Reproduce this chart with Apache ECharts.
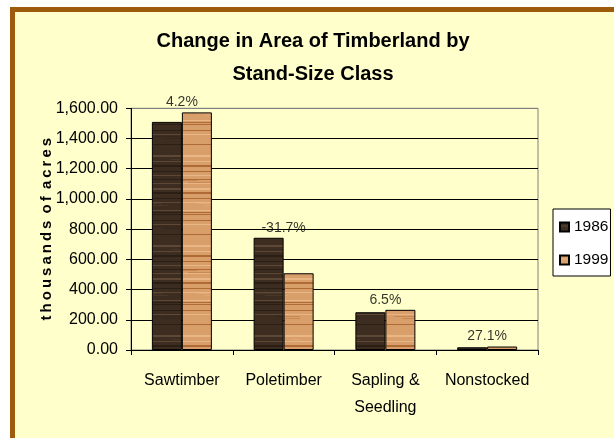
<!DOCTYPE html>
<html>
<head>
<meta charset="utf-8">
<script src="https://cdn.jsdelivr.net/npm/echarts@6/dist/echarts.min.js"></script>
<style>
  html, body { margin: 0; padding: 0; background: #fff; }
  #chart { width: 614px; height: 438px; }
</style>
</head>
<body>
<div id="chart"></div>
<script>
// categories and values (thousands of acres)
var categories = ['Sawtimber', 'Poletimber', 'Sapling &\nSeedling', 'Nonstocked'];
var area1986 = [1510, 743, 250, 18];
var area1999 = [1573, 508, 266, 23];
var changeLabels = ['4.2%', '-31.7%', '6.5%', '27.1%'];
var seriesNames = ['1986', '1999'];

var font = "'Liberation Sans', Arial, sans-serif";

// wood grain fill for the bars
function woodPattern(base, light, dark) {
  var c = document.createElement('canvas');
  c.width = 60;
  c.height = 90;
  var ctx = c.getContext('2d');
  for (var y = 0; y < c.height; y++) {
    var v = Math.sin(y * 0.9) + 0.6 * Math.sin(y * 2.3 + 1) + 0.5 * Math.sin(y * 0.31);
    var col = base;
    if (v > 1.1) col = light;
    else if (v < -1.1) col = dark;
    ctx.fillStyle = col;
    ctx.fillRect(0, y, c.width, 1);
  }
  // a few soft streaks
  ctx.globalAlpha = 0.4;
  for (var k = 0; k < 8; k++) {
    ctx.fillStyle = k % 2 ? light : dark;
    ctx.fillRect((k * 17) % 60, (k * 23) % 90, 18 + (k * 7) % 15, 1);
  }
  return { image: c, repeat: 'repeat' };
}

var darkWood = woodPattern('#3d2d21', '#5c4835', '#2a1e15');
var lightWood = woodPattern('#d99f6a', '#e8b785', '#b06a36');

var labelTops = area1986.map(function (v, i) { return Math.max(v, area1999[i]); });

var chart = echarts.init(document.getElementById('chart'));
var option = {
  backgroundColor: '#ffffff',
  animation: false,
  graphic: [
    {
      type: 'rect',
      z: -10,
      shape: { x: 12.5, y: 9.5, width: 700, height: 500 },
      style: { fill: '#ffffcc', stroke: '#9c5c0c', lineWidth: 5 }
    }
  ],
  title: {
    text: 'Change in Area of Timberland by\nStand-Size Class',
    left: 313,
    top: 25,
    padding: 0,
    textAlign: 'center',
    textStyle: {
      fontFamily: font,
      fontWeight: 'bold',
      fontSize: 20,
      lineHeight: 33,
      color: '#000'
    }
  },
  legend: {
    data: seriesNames,
    orient: 'vertical',
    left: 553,
    top: 209,
    padding: [10, 2, 8, 6],
    itemGap: 17,
    itemWidth: 9,
    itemHeight: 9,
    backgroundColor: '#ffffff',
    borderColor: '#000',
    borderWidth: 1,
    borderRadius: 0,
    icon: 'rect',
    textStyle: { fontFamily: font, fontSize: 15.5, color: '#000' }
  },
  grid: {
    left: 131,
    top: 108.3,
    right: 76,
    bottom: 88,
    show: true,
    backgroundColor: 'transparent',
    borderColor: '#808080',
    borderWidth: 1
  },
  xAxis: {
    type: 'category',
    data: categories,
    axisLine: { lineStyle: { color: '#000', width: 1 } },
    axisTick: { show: true, length: 5, lineStyle: { color: '#000' } },
    axisLabel: {
      interval: 0,
      margin: 17,
      fontFamily: font,
      fontSize: 16,
      lineHeight: 27,
      color: '#000'
    }
  },
  yAxis: {
    type: 'value',
    min: 0,
    max: 1600,
    interval: 200,
    name: 't\u2009h\u2009o\u2009u\u2009s\u2009a\u2009n\u2009d\u2009s \u2009o\u2009f \u2009a\u2009c\u2009r\u2009e\u2009s',
    nameLocation: 'middle',
    nameGap: 77,
    nameMoveOverlap: false,
    nameTextStyle: {
      fontFamily: font,
      fontWeight: 'bold',
      fontSize: 15,
      color: '#000'
    },
    axisLine: { show: true, lineStyle: { color: '#000', width: 1 } },
    axisTick: { show: true, length: 5, lineStyle: { color: '#000' } },
    splitLine: {
      show: true,
      lineStyle: {
        color: ['#000', '#000', '#000', '#000', '#000', '#000', '#000', '#000', '#808080'],
        width: 1
      }
    },
    axisLabel: {
      margin: 13,
      fontFamily: font,
      fontSize: 16,
      color: '#000',
      formatter: function (v) {
        return v.toLocaleString('en-US', { minimumFractionDigits: 2, maximumFractionDigits: 2 });
      }
    }
  },
  series: [
    {
      name: seriesNames[0],
      type: 'bar',
      data: area1986,
      barWidth: 30,
      barGap: '0%',
      itemStyle: { color: darkWood, borderColor: '#000', borderWidth: 1 }
    },
    {
      name: seriesNames[1],
      type: 'bar',
      data: area1999,
      barWidth: 30,
      barGap: '0%',
      itemStyle: { color: lightWood, borderColor: '#000', borderWidth: 1 }
    },
    {
      name: 'change',
      type: 'scatter',
      data: labelTops,
      symbolSize: 0,
      silent: true,
      z: 5,
      label: {
        show: true,
        position: 'top',
        distance: 3,
        fontFamily: font,
        fontSize: 14,
        color: '#000',
        formatter: function (p) { return changeLabels[p.dataIndex]; }
      }
    }
  ]
};
chart.setOption(option);
</script>
</body>
</html>
